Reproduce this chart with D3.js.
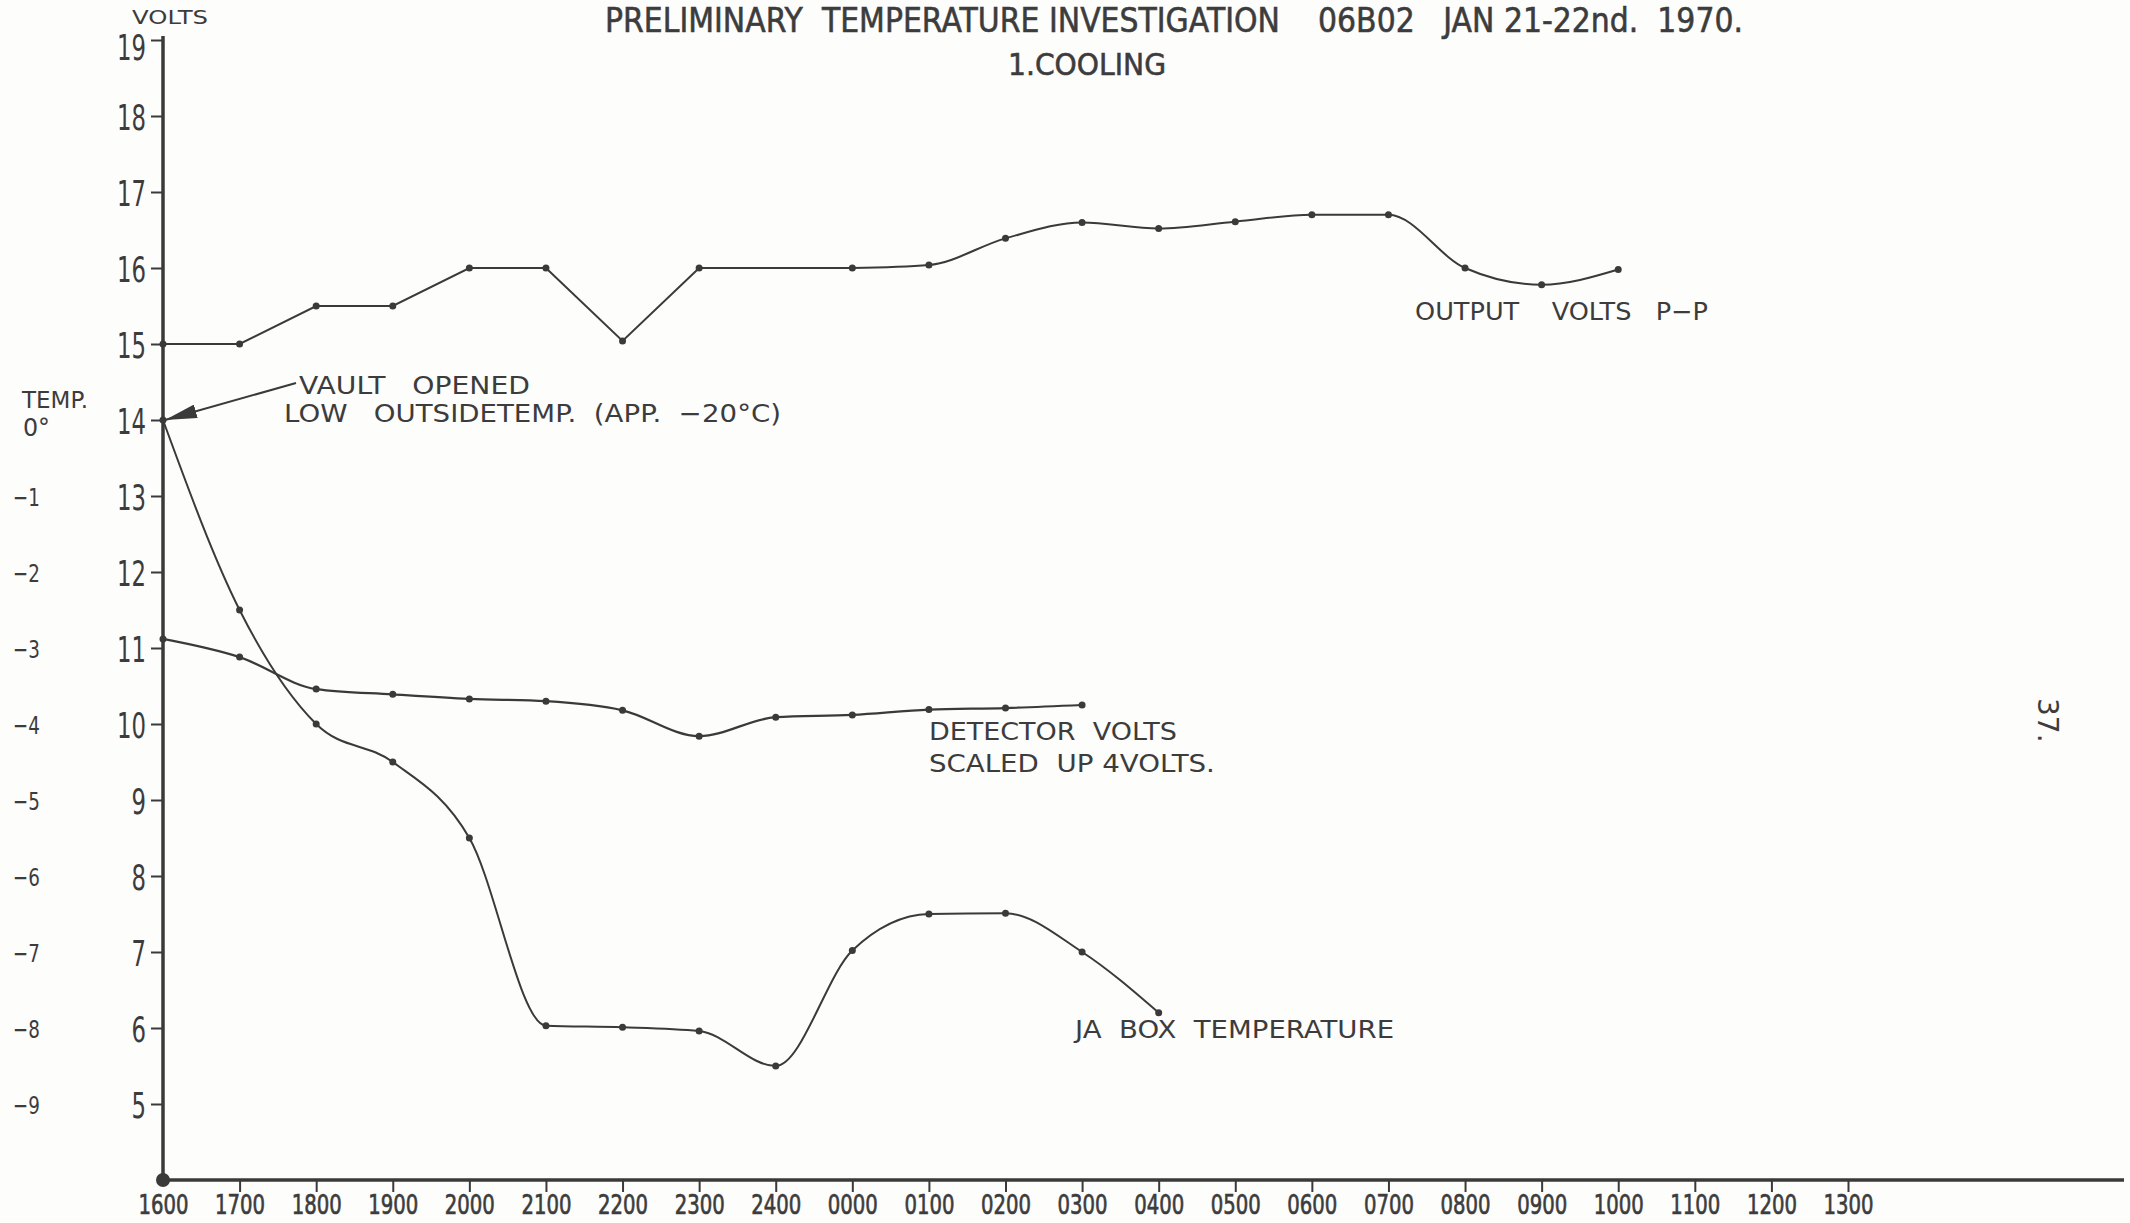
<!DOCTYPE html>
<html>
<head>
<meta charset="utf-8">
<script src="https://cdn.jsdelivr.net/npm/d3@7/dist/d3.min.js"></script>
<style>
  body { margin: 0; background: #fdfdfc; }
  svg { display: block; }
  text { fill: #3c3c3c; white-space: pre; }
  .num { font-family: "DejaVu Sans", sans-serif; }
  .let { font-family: "DejaVu Sans", sans-serif; }
</style>
</head>
<body>
<svg id="chart"></svg>
<script>
(function(){

	// data
	var hours = ["1600","1700","1800","1900","2000","2100","2200","2300","2400","0000","0100","0200","0300","0400","0500","0600","0700","0800","0900","1000","1100","1200","1300"];

	var outputHours = ["1600","1700","1800","1900","2000","2100","2200","2300","0000","0100","0200","0300","0400","0500","0600","0700","0800","0900","1000"];
	var outputVolts = [15.0, 15.0, 15.5, 15.5, 16.0, 16.0, 15.04, 16.0, 16.0, 16.04, 16.39, 16.6, 16.52, 16.61, 16.7, 16.7, 16.0, 15.78, 15.98];

	var detectorHours = ["1600","1700","1800","1900","2000","2100","2200","2300","2400","0000","0100","0200","0300"];
	var detectorVolts = [11.12, 10.88, 10.46, 10.39, 10.33, 10.3, 10.18, 9.84, 10.09, 10.12, 10.19, 10.21, 10.25];

	var boxHours = ["1600","1700","1800","1900","2000","2100","2200","2300","2400","0000","0100","0200","0300","0400"];
	var boxTemp = [0, -2.5, -4, -4.5, -5.5, -7.97, -7.99, -8.04, -8.5, -6.98, -6.5, -6.49, -7.0, -7.8];

	var voltTicks = d3.range(5, 20);
	var tempTicks = d3.range(-9, 1);

	//SVG Configurations
	var svgWidth = 2130;
	var svgHeight = 1223;
	var ink = "#3a3a3a";

	var svg = d3.select("#chart")
	.attr("width", svgWidth)
	.attr("height", svgHeight);

	var x = d3.scalePoint().domain(hours).range([163, 1848]);
	var y = d3.scaleLinear().domain([4, 19]).range([1180, 40]);
	var yTemp = d3.scaleLinear().domain([-10, 5]).range([1180, 40]);

	var defs = svg.append("defs");
	defs.append("marker")
	.attr("id", "arrow")
	.attr("viewBox", "0 0 10 10")
	.attr("preserveAspectRatio", "none")
	.attr("refX", 10).attr("refY", 5)
	.attr("markerWidth", 32).attr("markerHeight", 14)
	.attr("markerUnits", "userSpaceOnUse")
	.attr("orient", "auto")
	.append("path")
	.attr("d", "M0,0 L10,5 L0,10 Z")
	.attr("fill", ink);

	drawAxes();
	drawSeries();
	drawLabels();

	//squeeze a tick label to the narrow stencil width
	function narrow(perChar){
		return function(){
			var n = this.textContent.length;
			d3.select(this).attr("textLength", n * perChar).attr("lengthAdjust", "spacingAndGlyphs");
		};
	}

	function drawAxes(){
		//left volts axis
		var yAxis = svg.append("g")
		.attr("transform", "translate(" + x("1600") + ",0)")
		.call(d3.axisLeft(y).tickValues(voltTicks).tickSize(12).tickPadding(5));
		yAxis.select(".domain").remove();
		yAxis.selectAll("line").attr("stroke", ink).attr("stroke-width", 2);
		yAxis.selectAll("text")
		.attr("class", "num")
		.attr("font-size", 36)
		.attr("dy", "0.38em")
		.each(narrow(14.5));
		//top label sits a little low on the sheet
		yAxis.selectAll(".tick").filter(function(d){ return d === 19; }).select("text")
		.attr("y", 6);

		//temperature scale, labels only
		var tAxis = svg.append("g")
		.attr("transform", "translate(40,0)")
		.call(d3.axisLeft(yTemp).tickValues(tempTicks).tickSize(0).tickPadding(0)
			.tickFormat(function(d){ return d === 0 ? "0°" : "\u2212" + Math.abs(d); }));
		tAxis.select(".domain").remove();
		tAxis.selectAll("text")
		.attr("class", "num")
		.attr("font-size", 25)
		.attr("dy", "0.36em")
		.each(narrow(13.5));
		tAxis.selectAll(".tick").filter(function(d){ return d === 0; }).select("text")
		.attr("x", 10).attr("dy", "0.6em");

		svg.append("text")
		.attr("class", "num")
		.attr("x", 22).attr("y", y(14) - 12)
		.attr("font-size", 23)
		.attr("textLength", 66).attr("lengthAdjust", "spacingAndGlyphs")
		.text("TEMP.");

		//bottom time axis
		var xAxis = svg.append("g")
		.attr("transform", "translate(0," + y(4) + ")")
		.call(d3.axisBottom(x).tickSize(12).tickPadding(5));
		xAxis.select(".domain").remove();
		xAxis.selectAll("line").attr("stroke", ink).attr("stroke-width", 2);
		xAxis.selectAll(".tick").filter(function(d){ return d === "1600"; }).select("line").remove();
		xAxis.selectAll("text")
		.attr("class", "num")
		.attr("font-size", 26)
		.attr("y", 34).attr("dy", 0)
		.attr("stroke", "#3c3c3c").attr("stroke-width", 0.7)
		.each(narrow(12.5));

		//axis lines
		svg.append("line")
		.attr("x1", x("1600")).attr("x2", x("1600"))
		.attr("y1", y(4)).attr("y2", y(19) - 4)
		.attr("stroke", ink).attr("stroke-width", 3.5);
		svg.append("line")
		.attr("x1", x("1600")).attr("x2", svgWidth - 6)
		.attr("y1", y(4)).attr("y2", y(4))
		.attr("stroke", ink).attr("stroke-width", 3.5);
		svg.append("circle")
		.attr("cx", x("1600")).attr("cy", y(4)).attr("r", 7)
		.attr("fill", ink);
	}

	function drawSeries(){
		var outData = outputHours.map(function(h, i){ return {h: h, v: outputVolts[i]}; });
		var detData = detectorHours.map(function(h, i){ return {h: h, v: detectorVolts[i]}; });
		var boxData = boxHours.map(function(h, i){ return {h: h, v: boxTemp[i]}; });

		var straight = d3.line()
		.x(function(d){ return x(d.h); })
		.y(function(d){ return y(d.v); });
		var smooth = d3.line()
		.curve(d3.curveMonotoneX)
		.x(function(d){ return x(d.h); })
		.y(function(d){ return y(d.v); });
		var smoothTemp = d3.line()
		.curve(d3.curveMonotoneX)
		.x(function(d){ return x(d.h); })
		.y(function(d){ return yTemp(d.v); });

		//output volts: ruled up to midnight, freehand after
		var split = outputHours.indexOf("0000");
		svg.append("path")
		.attr("d", straight(outData.slice(0, split + 1)))
		.attr("fill", "none").attr("stroke", ink).attr("stroke-width", 2);
		svg.append("path")
		.attr("d", smooth(outData.slice(split)))
		.attr("fill", "none").attr("stroke", ink).attr("stroke-width", 2);

		svg.append("path")
		.attr("d", smooth(detData))
		.attr("fill", "none").attr("stroke", ink).attr("stroke-width", 2.2);

		svg.append("path")
		.attr("d", smoothTemp(boxData))
		.attr("fill", "none").attr("stroke", ink).attr("stroke-width", 2);

		//dots
		svg.append("g").selectAll("circle")
		.data(outData).enter().append("circle")
		.attr("cx", function(d){ return x(d.h); })
		.attr("cy", function(d){ return y(d.v); })
		.attr("r", 3.5).attr("fill", ink);
		svg.append("g").selectAll("circle")
		.data(detData).enter().append("circle")
		.attr("cx", function(d){ return x(d.h); })
		.attr("cy", function(d){ return y(d.v); })
		.attr("r", 3.5).attr("fill", ink);
		svg.append("g").selectAll("circle")
		.data(boxData).enter().append("circle")
		.attr("cx", function(d){ return x(d.h); })
		.attr("cy", function(d){ return yTemp(d.v); })
		.attr("r", 3.5).attr("fill", ink);
	}

	function addText(cls, tx, ty, size, str, len){
		var t = svg.append("text")
		.attr("class", cls)
		.attr("x", tx).attr("y", ty)
		.attr("font-size", size)
		.text(str);
		if (len) t.attr("textLength", len).attr("lengthAdjust", "spacingAndGlyphs");
		return t;
	}

	function drawLabels(){
		addText("num", 605, 32, 33, "PRELIMINARY  TEMPERATURE INVESTIGATION    06B02   JAN 21-22nd.  1970.", 1138)
		.attr("stroke", "#3c3c3c").attr("stroke-width", 0.6);
		addText("num", 1008, 75, 31, "1.COOLING", 158)
		.attr("stroke", "#3c3c3c").attr("stroke-width", 0.6);
		addText("num", 132, 24, 19, "VOLTS", 76);

		//vault annotation with arrow to the axis
		svg.append("line")
		.attr("x1", 296).attr("y1", 383)
		.attr("x2", x("1600") + 2).attr("y2", y(14))
		.attr("stroke", ink).attr("stroke-width", 2)
		.attr("marker-end", "url(#arrow)");
		addText("let", 299, 394, 25, "VAULT   OPENED", 231);
		addText("let", 284, 422, 25, "LOW   OUTSIDETEMP.  (APP.  \u221220°C)", 497);

		addText("let", x("0800") - 50, 320, 25, "OUTPUT    VOLTS   P\u2212P", 293);
		addText("let", x("0100"), 740, 25, "DETECTOR  VOLTS", 248);
		addText("let", x("0100"), 772, 25, "SCALED  UP 4VOLTS.", 286);
		addText("let", x("0300") - 7, 1038, 25, "JA  BOX  TEMPERATURE", 319);

		svg.append("text")
		.attr("class", "let")
		.attr("font-size", 28)
		.attr("transform", "translate(2038,698) rotate(90)")
		.text("37.");
	}

})();
</script>
</body>
</html>
